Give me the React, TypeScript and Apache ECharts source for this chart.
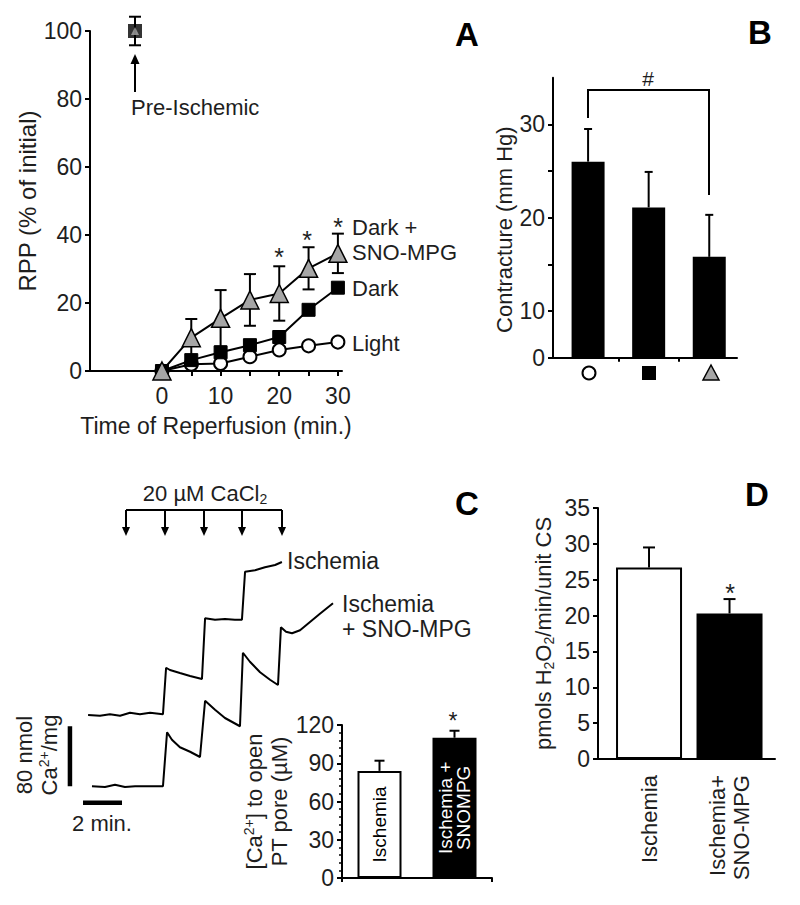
import React, { useEffect, useRef } from 'react';
import * as echarts from 'echarts';

const FONT = '"Liberation Sans", Arial, Helvetica, sans-serif';
const INK = '#1e1e1e';

// ---------- Panel A : RPP recovery ----------
const reperfusionTimes = [0, 5, 10, 15, 20, 25, 30];
const lightRPP = [0, 2, 2.2, 4.2, 6.2, 7.4, 8.5];
const darkRPP = [0, 3.2, 5.5, 7.6, 10, 18, 24.5];
const darkSnoRPP = [0, 9.8, 15.5, 20.9, 22.8, 30.2, 34.6];
const darkSnoSEM = [0, 5.5, 8.3, 7.6, 8.0, 6.2, 5.8];
const preIschemicTime = -4.6;
const preIschemicRPP = 100;
const preIschemicSEM = 4.2;
const rppTicks = [0, 5, 10, 15, 20, 25, 30];
const rppTickLabels = [0, 10, 20, 30];

// ---------- Panel B : contracture ----------
const contracturePos = [0, 1, 2];
const contracture = [26.0, 21.1, 15.8];
const contractureSEM = [3.5, 3.8, 4.5];

// ---------- Panel C : Ca2+ traces ----------
const ischemiaTraceTime = [1.44, 2.05, 2.56, 3.08, 3.59, 4.1, 4.62, 5.28, 5.44, 5.64, 6.15, 6.67, 7.28, 7.44, 7.95, 8.46, 8.97, 9.33, 9.49, 10.0, 10.51, 11.03, 11.38];
const ischemiaTraceCa = [160, 159, 161, 159, 163, 161, 163, 161, 223, 220, 216, 212, 208, 289, 287, 288, 287, 287, 351, 353, 357, 360, 364];
const snoTraceTime = [1.64, 2.31, 2.82, 3.33, 3.85, 4.62, 5.28, 5.49, 5.74, 6.15, 6.67, 7.18, 7.44, 7.95, 8.46, 9.23, 9.38, 9.74, 10.26, 10.77, 11.18, 11.33, 11.59, 11.9, 12.31, 12.82, 13.33, 14.0];
const snoTraceCa = [65, 64, 67, 64, 65, 65, 65, 137, 127, 117, 111, 104, 179, 167, 156, 145, 243, 231, 217, 207, 200, 277, 271, 269, 273, 284, 295, 309];
const caScaleBar = [[0.51, 65], [0.51, 145]]; // 80 nmol
const timeScaleBar = [[1.18, 43], [3.18, 43]]; // 2 min

const poreGroups = ['Ischemia', 'Ischemia +\nSNOMPG'];
const poreCa = [84, 110];
const poreSEM = [8, 5.5];

// ---------- Panel D : H2O2 ----------
const h2o2Pos = [0, 1];
const h2o2Groups = ['Ischemia', 'Ischemia+\nSNO-MPG'];
const h2o2 = [26.7, 20.3];
const h2o2SEM = [2.8, 2.0];

const FS = 22;
const TICK_FS = 23;

const richC = {
  t: { fontSize: FS, fontFamily: FONT, color: INK, lineHeight: 25 },
  sup: { fontSize: 14, fontFamily: FONT, color: INK, verticalAlign: 'top', lineHeight: 25 },
  sub: { fontSize: 14, fontFamily: FONT, color: INK, verticalAlign: 'bottom', lineHeight: 25 },
};
const richG = {
  t: { fontSize: FS, fontFamily: FONT, fill: INK, lineHeight: 25 },
  sup: { fontSize: 14, fontFamily: FONT, fill: INK, verticalAlign: 'top', lineHeight: 25 },
  sub: { fontSize: 14, fontFamily: FONT, fill: INK, verticalAlign: 'bottom', lineHeight: 25 },
};

const errRender = (capHalf: number, both: boolean) => (params: any, api: any) => {
  const x = api.value(0);
  const lo = api.value(1);
  const hi = api.value(2);
  const pLo = api.coord([x, lo]);
  const pHi = api.coord([x, hi]);
  const st = { stroke: '#000', lineWidth: 2 };
  const children: any[] = [
    { type: 'line', shape: { x1: pLo[0], y1: pLo[1], x2: pHi[0], y2: pHi[1] }, style: st },
    { type: 'line', shape: { x1: pHi[0] - capHalf, y1: pHi[1], x2: pHi[0] + capHalf, y2: pHi[1] }, style: st },
  ];
  if (both) children.push({ type: 'line', shape: { x1: pLo[0] - capHalf, y1: pLo[1], x2: pLo[0] + capHalf, y2: pLo[1] }, style: st });
  return { type: 'group', children };
};

const axLine = { show: true, onZero: false, lineStyle: { color: '#000', width: 2 } };
const axTick = { show: true, length: 5, inside: false, lineStyle: { color: '#000', width: 2 } };
const axLabel = { fontSize: TICK_FS, fontFamily: FONT, color: INK, margin: 8 };
const nameStyle = { fontSize: FS, fontFamily: FONT, color: INK };

const txt = (x: number, y: number, text: string, extra: any = {}) => ({
  type: 'text', x, y,
  style: { text, fontSize: FS, fontFamily: FONT, fill: INK, align: 'left', verticalAlign: 'middle', ...extra },
});
const seg = (pts: number[][], w = 2) => ({ type: 'polyline', shape: { points: pts }, style: { stroke: '#000', lineWidth: w, fill: 'none' } });

function buildOption(): any {
  const arrowXs = [126, 165, 204, 242, 282];
  const letter = { fontSize: 33, fontWeight: 'bold', align: 'center', fill: '#000' };
  const graphic: any[] = [
    // panel letters
    txt(467, 34, 'A', letter),
    txt(760, 32, 'B', letter),
    txt(467, 503, 'C', letter),
    txt(757, 494, 'D', letter),
    // panel A annotations
    txt(131, 107, 'Pre-Ischemic'),
    seg([[135, 92], [135, 60]]),
    { type: 'polygon', shape: { points: [[135, 54], [130.5, 64], [139.5, 64]] }, style: { fill: '#000' } },
    txt(352, 227, 'Dark +'),
    txt(352, 252, 'SNO-MPG'),
    txt(352, 288, 'Dark'),
    txt(352, 343, 'Light'),
    txt(279, 257, '*', { fontSize: 25, align: 'center' }),
    txt(307, 240, '*', { fontSize: 25, align: 'center' }),
    txt(338, 227, '*', { fontSize: 25, align: 'center' }),
    // panel B annotations
    seg([[588, 118], [588, 90], [709, 90], [709, 195]]),
    txt(648, 78, '#', { fontSize: 21, align: 'center' }),
    { type: 'circle', shape: { cx: 589, cy: 373, r: 6.5 }, style: { fill: '#fff', stroke: '#000', lineWidth: 2 } },
    { type: 'rect', shape: { x: 642, y: 366, width: 14, height: 14 }, style: { fill: '#000' } },
    { type: 'polygon', shape: { points: [[711, 365], [703, 380], [719, 380]] }, style: { fill: '#a6a6a6', stroke: '#000', lineWidth: 1.5 } },
    // panel C annotations
    { type: 'text', x: 205, y: 493, style: { text: '{t|20 µM CaCl}{sub|2}', rich: richG, align: 'center', verticalAlign: 'middle' } },
    seg([[126, 510], [282, 510]]),
    ...arrowXs.map((x) => seg([[x, 510], [x, 529]])),
    ...arrowXs.map((x) => ({ type: 'polygon', shape: { points: [[x, 536], [x - 4, 527], [x + 4, 527]] }, style: { fill: '#000' } })),
    txt(287, 561, 'Ischemia', { fontSize: 23 }),
    txt(342, 604, 'Ischemia', { fontSize: 23 }),
    txt(342, 629, '+ SNO-MPG', { fontSize: 23 }),
    txt(102, 823, '2 min.', { align: 'center' }),
    { type: 'text', x: 37, y: 755, rotation: Math.PI / 2, style: { text: '{t|80 nmol}\n{t|Ca}{sup|2+}{t|/mg}', rich: richG, align: 'center', verticalAlign: 'middle' } },
    txt(453, 721, '*', { fontSize: 23, align: 'center' }),
    // panel D annotations
    txt(730, 593, '*', { fontSize: 25, align: 'center' }),
  ];

  return {
    animation: false,
    backgroundColor: '#fff',
    textStyle: { fontFamily: FONT },
    grid: [
      { left: 90, top: 31, width: 252, height: 340 },
      { left: 553, top: 77.65, width: 184, height: 280 },
      { left: 60, top: 535, width: 292.5, height: 300 },
      { left: 342, top: 725, width: 150, height: 153 },
      { left: 598, top: 508, width: 177, height: 251 },
    ],
    xAxis: [
      {
        gridIndex: 0, type: 'value', min: -12.27, max: 30.7,
        axisLine: axLine, splitLine: { show: false },
        axisTick: { ...axTick, customValues: rppTicks },
        axisLabel: { ...axLabel, margin: 13, customValues: rppTickLabels },
        name: 'Time of Reperfusion (min.)', nameLocation: 'middle', nameGap: 43,
        nameTextStyle: { ...nameStyle, fontSize: 23 },
      },
      {
        gridIndex: 1, type: 'value', min: -0.579, max: 2.458,
        axisLine: axLine, splitLine: { show: false },
        axisTick: { ...axTick, length: 4, customValues: [0.5, 1.5] },
        axisLabel: { show: false },
      },
      { gridIndex: 2, type: 'value', min: 0, max: 15, show: false },
      {
        gridIndex: 3, type: 'category', data: poreGroups,
        axisLine: axLine, axisTick: { ...axTick, length: 4 },
        axisLabel: { show: false },
      },
      {
        gridIndex: 4, type: 'value', min: -0.634, max: 1.565,
        axisLine: axLine, splitLine: { show: false },
        axisTick: { show: false },
        axisLabel: {
          ...axLabel, fontSize: FS, rotate: 90, margin: 16, lineHeight: 24, customValues: h2o2Pos,
          formatter: (v: number) => h2o2Groups[Math.round(v)] ?? '',
        },
      },
    ],
    yAxis: [
      {
        gridIndex: 0, type: 'value', min: 0, max: 100, interval: 20,
        axisLine: axLine, axisTick: axTick, axisLabel: axLabel, splitLine: { show: false },
        name: 'RPP (% of initial)', nameLocation: 'middle', nameGap: 50,
        nameTextStyle: { ...nameStyle, fontSize: 24 },
      },
      {
        gridIndex: 1, type: 'value', min: 5, max: 35, interval: 5,
        axisLine: axLine, splitLine: { show: false },
        axisTick: { ...axTick, customValues: [5, 10, 15, 20, 25, 30] },
        axisLabel: { ...axLabel, customValues: [5, 10, 20, 30], formatter: (v: number) => (v === 5 ? '0' : String(v)) },
        name: 'Contracture (mm Hg)', nameLocation: 'middle', nameGap: 37,
        nameTextStyle: { ...nameStyle, padding: [0, 24, 0, 0] },
      },
      { gridIndex: 2, type: 'value', min: 0, max: 400, show: false },
      {
        gridIndex: 3, type: 'value', min: 0, max: 120, interval: 30,
        axisLine: axLine, axisTick: axTick, axisLabel: axLabel, splitLine: { show: false },
        minorTick: { show: true, splitNumber: 5, length: 3, lineStyle: { color: '#000', width: 1.5 } },
        minorSplitLine: { show: false },
        name: '{t|[Ca}{sup|2+}{t|] to open}\n{t|PT pore (µM)}', nameLocation: 'middle', nameGap: 39,
        nameTextStyle: { rich: richC, lineHeight: 22 },
      },
      {
        gridIndex: 4, type: 'value', min: 0, max: 35, interval: 5,
        axisLine: axLine, axisTick: axTick, axisLabel: axLabel, splitLine: { show: false },
        name: '{t|pmols H}{sub|2}{t|O}{sub|2}{t|/min/unit CS}', nameLocation: 'middle', nameGap: 42,
        nameTextStyle: { rich: richC },
      },
    ],
    series: [
      // ---- A ----
      {
        type: 'custom', name: 'SEM Dark + SNO-MPG', xAxisIndex: 0, yAxisIndex: 0, z: 2,
        renderItem: errRender(6, true), encode: { x: 0, y: [1, 2] },
        data: reperfusionTimes.map((t, i) => [t, darkSnoRPP[i] - darkSnoSEM[i], darkSnoRPP[i] + darkSnoSEM[i]]).filter((d, i) => darkSnoSEM[i] > 0),
      },
      {
        type: 'custom', name: 'SEM Pre-Ischemic', xAxisIndex: 0, yAxisIndex: 0, z: 2,
        renderItem: errRender(6, true), encode: { x: 0, y: [1, 2] },
        data: [[preIschemicTime, preIschemicRPP - preIschemicSEM, preIschemicRPP + preIschemicSEM]],
      },
      {
        type: 'line', name: 'Light', xAxisIndex: 0, yAxisIndex: 0, z: 3,
        data: reperfusionTimes.map((t, i) => [t, lightRPP[i]]),
        symbol: 'circle', symbolSize: 13, lineStyle: { color: '#000', width: 2 },
        itemStyle: { color: '#fff', borderColor: '#000', borderWidth: 2 },
      },
      {
        type: 'line', name: 'Dark', xAxisIndex: 0, yAxisIndex: 0, z: 4,
        data: reperfusionTimes.map((t, i) => [t, darkRPP[i]]),
        symbol: 'rect', symbolSize: 13, lineStyle: { color: '#000', width: 2 },
        itemStyle: { color: '#000', borderColor: '#000', borderWidth: 1 },
      },
      {
        type: 'line', name: 'Dark + SNO-MPG', xAxisIndex: 0, yAxisIndex: 0, z: 5,
        data: reperfusionTimes.map((t, i) => [t, darkSnoRPP[i]]),
        symbol: 'triangle', symbolSize: 18, lineStyle: { color: '#000', width: 2 },
        itemStyle: { color: '#a6a6a6', borderColor: '#000', borderWidth: 1.5 },
      },
      {
        type: 'scatter', name: 'Pre-Ischemic Dark', xAxisIndex: 0, yAxisIndex: 0, z: 4,
        data: [[preIschemicTime, preIschemicRPP]], symbol: 'rect', symbolSize: 14,
        itemStyle: { color: '#000' },
      },
      {
        type: 'scatter', name: 'Pre-Ischemic Dark + SNO-MPG', xAxisIndex: 0, yAxisIndex: 0, z: 5,
        data: [[preIschemicTime, preIschemicRPP]], symbol: 'triangle', symbolSize: 8,
        itemStyle: { color: '#a6a6a6' },
      },
      // ---- B ----
      {
        type: 'bar', name: 'Contracture', xAxisIndex: 1, yAxisIndex: 1, barWidth: 33, clip: true,
        data: contracturePos.map((p, i) => [p, contracture[i]]),
        itemStyle: { color: '#000' },
      },
      {
        type: 'custom', name: 'SEM Contracture', xAxisIndex: 1, yAxisIndex: 1, z: 3,
        renderItem: errRender(4, false), encode: { x: 0, y: [1, 2] },
        data: contracturePos.map((p, i) => [p, contracture[i], contracture[i] + contractureSEM[i]]),
      },
      // ---- C traces ----
      {
        type: 'line', name: 'Ischemia', xAxisIndex: 2, yAxisIndex: 2, symbol: 'none',
        data: ischemiaTraceTime.map((t, i) => [t, ischemiaTraceCa[i]]), lineStyle: { color: '#000', width: 2 },
      },
      {
        type: 'line', name: 'Ischemia + SNO-MPG', xAxisIndex: 2, yAxisIndex: 2, symbol: 'none',
        data: snoTraceTime.map((t, i) => [t, snoTraceCa[i]]), lineStyle: { color: '#000', width: 2 },
      },
      {
        type: 'line', name: '80 nmol', xAxisIndex: 2, yAxisIndex: 2, symbol: 'none',
        data: caScaleBar, lineStyle: { color: '#000', width: 4.5, cap: 'butt' },
      },
      {
        type: 'line', name: '2 min', xAxisIndex: 2, yAxisIndex: 2, symbol: 'none',
        data: timeScaleBar, lineStyle: { color: '#000', width: 4.5, cap: 'butt' },
      },
      // ---- C inset ----
      {
        type: 'bar', name: 'PT pore', xAxisIndex: 3, yAxisIndex: 3, barWidth: 44,
        data: poreCa.map((v, i) => ({
          value: v,
          itemStyle: i === 0 ? { color: '#fff', borderColor: '#000', borderWidth: 2 } : { color: '#000', borderColor: '#000', borderWidth: 2 },
          label: { color: i === 0 ? '#000' : '#fff' },
        })),
        label: {
          show: true, position: 'inside', rotate: 90, fontSize: 19, lineHeight: 18, fontFamily: FONT,
          formatter: (p: any) => poreGroups[p.dataIndex],
        },
      },
      {
        type: 'custom', name: 'SEM PT pore', xAxisIndex: 3, yAxisIndex: 3, z: 1,
        renderItem: errRender(5, false), encode: { x: 0, y: [1, 2] },
        data: poreCa.map((v, i) => [i, v, v + poreSEM[i]]),
      },
      // ---- D ----
      {
        type: 'bar', name: 'H2O2', xAxisIndex: 4, yAxisIndex: 4, barWidth: 66,
        data: h2o2Pos.map((p, i) => ({
          value: [p, h2o2[i]],
          itemStyle: i === 0 ? { color: '#fff', borderColor: '#000', borderWidth: 2 } : { color: '#000', borderColor: '#000', borderWidth: 2 },
        })),
      },
      {
        type: 'custom', name: 'SEM H2O2', xAxisIndex: 4, yAxisIndex: 4, z: 1,
        renderItem: errRender(6, false), encode: { x: 0, y: [1, 2] },
        data: h2o2Pos.map((p, i) => [p, h2o2[i], h2o2[i] + h2o2SEM[i]]),
      },
    ],
    graphic,
  };
}

export default function App() {
  const ref = useRef<HTMLDivElement>(null);
  useEffect(() => {
    document.body.style.margin = '0';
    const chart = echarts.init(ref.current!, null, { renderer: 'svg' });
    chart.setOption(buildOption());
    return () => chart.dispose();
  }, []);
  return <div ref={ref} style={{ width: 800, height: 905 }} />;
}
